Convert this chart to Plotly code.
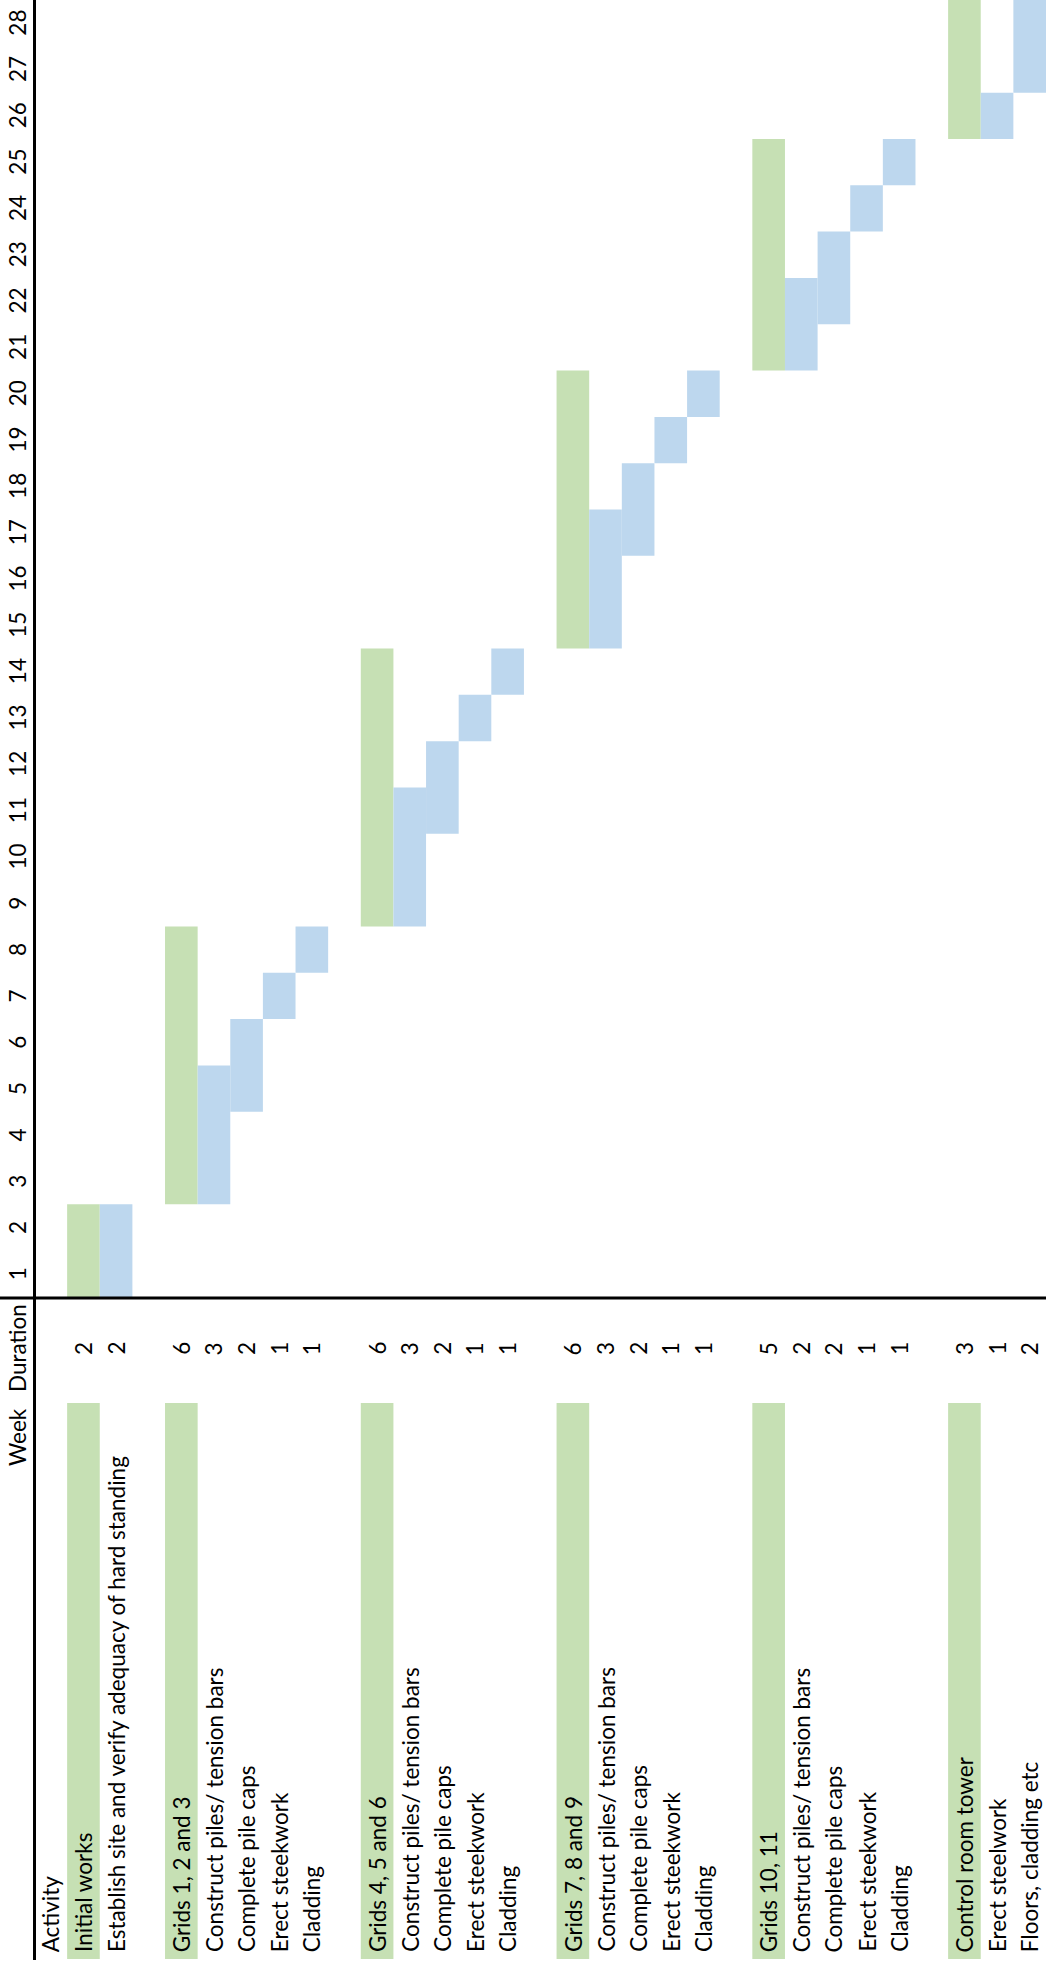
import plotly.graph_objects as go

# ---------------- data ----------------
activities = [
    "Activity",
    "Initial works",
    "Establish site and verify adequacy of hard standing",
    "",
    "Grids 1, 2 and 3",
    "Construct piles/ tension bars",
    "Complete pile caps",
    "Erect steekwork",
    "Cladding",
    "",
    "Grids 4, 5 and 6",
    "Construct piles/ tension bars",
    "Complete pile caps",
    "Erect steekwork",
    "Cladding",
    "",
    "Grids 7, 8 and 9",
    "Construct piles/ tension bars",
    "Complete pile caps",
    "Erect steekwork",
    "Cladding",
    "",
    "Grids 10, 11",
    "Construct piles/ tension bars",
    "Complete pile caps",
    "Erect steekwork",
    "Cladding",
    "",
    "Control room tower",
    "Erect steelwork",
    "Floors, cladding etc",
]
is_group = [False, True, False, False,
            True, False, False, False, False, False,
            True, False, False, False, False, False,
            True, False, False, False, False, False,
            True, False, False, False, False, False,
            True, False, False]
start_week = [None, 1, 1, None,
              3, 3, 5, 7, 8, None,
              9, 9, 11, 13, 14, None,
              15, 15, 17, 19, 20, None,
              21, 21, 22, 24, 25, None,
              26, 26, 27]
duration = [None, 2, 2, None,
            6, 3, 2, 1, 1, None,
            6, 3, 2, 1, 1, None,
            6, 3, 2, 1, 1, None,
            5, 2, 2, 1, 1, None,
            3, 1, 2]
weeks = list(range(1, 29))

GREEN = "#C6E0B4"
BLUE = "#BDD7EE"
FONT = "Lato"
FS = 22.5

W, H = 1046, 1966
AXIS_LEFT = 34.5          # px, vertical border line
AXIS_BOTTOM = 1298        # px from top, horizontal border line

rows = list(range(len(activities)))

fig = go.Figure()

# gantt bars (week axis)
for grp, color in ((True, GREEN), (False, BLUE)):
    xs, bases, ys = [], [], []
    for i in rows:
        if duration[i] is None or is_group[i] != grp:
            continue
        xs.append(i)
        bases.append(start_week[i] - 0.5)
        ys.append(duration[i])
    fig.add_trace(go.Bar(x=xs, y=ys, base=bases, width=1, marker_color=color,
                         marker_line_width=0, xaxis="x", yaxis="y",
                         showlegend=False, hoverinfo="skip"))

# table region (y2 measured in px from its top edge)
TABLE_H = H - AXIS_BOTTOM
cell_top = 1403 - AXIS_BOTTOM
cell_bot = 1959 - AXIS_BOTTOM
gx = [i for i in rows if is_group[i]]
fig.add_trace(go.Bar(x=gx, y=[cell_bot - cell_top] * len(gx), base=[cell_top] * len(gx),
                     width=1, marker_color=GREEN, marker_line_width=0,
                     xaxis="x", yaxis="y2", showlegend=False, hoverinfo="skip"))

ann = []
text_bottom = 1954 - AXIS_BOTTOM
dur_center = 1348.5 - AXIS_BOTTOM
for i in rows:
    if activities[i]:
        ann.append(dict(x=i, y=text_bottom, xref="x", yref="y2", text=activities[i],
                        textangle=-90, xanchor="center", yanchor="bottom",
                        showarrow=False, font=dict(family=FONT, size=FS, color="black")))
    if duration[i] is not None:
        ann.append(dict(x=i, y=dur_center, xref="x", yref="y2", text=str(duration[i]),
                        textangle=-90, xanchor="center", yanchor="middle",
                        showarrow=False, font=dict(family=FONT, size=FS, color="black")))
# header texts in the left column
ann.append(dict(x=17.5 / W, y=dur_center, xref="paper", yref="y2", text="Duration",
                textangle=-90, xanchor="center", yanchor="middle", showarrow=False,
                font=dict(family=FONT, size=FS, color="black")))
ann.append(dict(x=17.5 / W, y=1437.5 - AXIS_BOTTOM, xref="paper", yref="y2", text="Week",
                textangle=-90, xanchor="center", yanchor="middle", showarrow=False,
                font=dict(family=FONT, size=FS, color="black")))
# week numbers
for wk in weeks:
    ann.append(dict(x=17.5 / W, y=wk, xref="paper", yref="y", text=str(wk),
                    textangle=-90, xanchor="center", yanchor="middle", showarrow=False,
                    font=dict(family=FONT, size=FS, color="black")))

shapes = [
    dict(type="line", xref="paper", yref="paper", x0=AXIS_LEFT / W, x1=AXIS_LEFT / W,
         y0=1 - 1960 / H, y1=1, line=dict(color="black", width=3)),
    dict(type="line", xref="paper", yref="paper", x0=0, x1=1,
         y0=1 - AXIS_BOTTOM / H, y1=1 - AXIS_BOTTOM / H, line=dict(color="black", width=3)),
]

fig.update_layout(
    width=W, height=H,
    margin=dict(l=0, r=0, t=0, b=0),
    paper_bgcolor="white", plot_bgcolor="white",
    barmode="overlay",
    xaxis=dict(domain=[AXIS_LEFT / W, 1], range=[-0.5, len(activities) - 0.5],
               showgrid=False, zeroline=False, showticklabels=False, ticks="",
               anchor="y", fixedrange=True),
    yaxis=dict(domain=[1 - (AXIS_BOTTOM - 1) / H, 1], range=[0.5, 28.5],
               showgrid=False, zeroline=False, showticklabels=False, ticks="",
               anchor="x"),
    yaxis2=dict(domain=[0, 1 - AXIS_BOTTOM / H], range=[TABLE_H, 0],
                showgrid=False, zeroline=False, showticklabels=False, ticks="",
                anchor="x"),
    annotations=ann,
    shapes=shapes,
    font=dict(family=FONT, size=FS, color="black"),
)

fig.write_html(
    "out.html",
    config={"displayModeBar": False},
    post_script="document.body.style.margin='0';document.body.style.padding='0';"
                "document.body.style.overflow='hidden';",
)
